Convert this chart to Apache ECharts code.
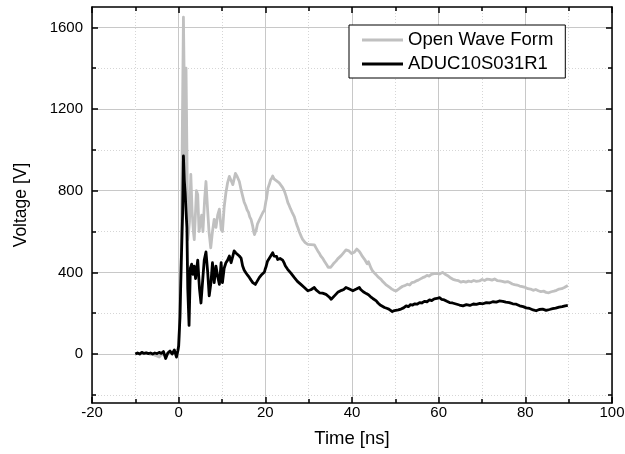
<!DOCTYPE html>
<html>
<head>
<meta charset="utf-8">
<script src="https://cdn.jsdelivr.net/npm/echarts@6/dist/echarts.min.js"></script>
<style>
html,body{margin:0;padding:0;background:#fff;}
#c{width:625px;height:454px;}
</style>
</head>
<body>
<div id="c"></div>
<script>
var seriesNames = ['Open Wave Form', 'ADUC10S031R1'];
var xTicks = [-20, 0, 20, 40, 60, 80, 100];
var yMajorTicks = [0, 400, 800, 1200, 1600];
var yMinorTicks = [-200, 200, 600, 1000, 1400];

var grayTime = [-10,-9.5,-9,-8.5,-8,-7.5,-7,-6.5,-6,-5.5,-5,-4.5,-4,-3.5,-3,-2.5,-2,-1.5,-1,-0.5,0,0.3,0.6,0.85,1.1,1.3,1.45,1.7,1.9,2.1,2.3,2.5,2.8,3.1,3.4,3.6,3.9,4.1,4.4,4.7,5.0,5.3,5.6,6.0,6.3,6.7,7.0,7.4,7.8,8.2,8.6,9.0,9.4,9.8,10.1,10.5,10.9,11.3,11.7,12.1,12.5,13.1,13.5,
14,14.4,14.75,15.1,15.5,15.8,16.1,16.4,16.7,17.1,17.3,17.5,17.7,17.9,18.2,18.5,18.8,19.1,19.4,19.6,19.8,20.1,20.3,20.6,20.9,21.2,21.5,21.7,22.0,22.3,22.6,22.9,23.2,23.6,24.0,24.4,24.8,25.2,25.5,25.8,26.1,26.3,26.7,27.0,27.3,27.5,27.8,28.0,28.3,28.6,28.9,29.2,29.5,29.8,30.1,30.5,30.9,31.3,31.7,32.1,32.5,32.8,33.2,33.6,33.9,34.2,34.5,34.8,35.1,35.4,35.7,35.9,36.3,36.7,37.1,37.5,37.9,38.2,38.6,39.0,39.3,39.6,39.9,40.2,40.5,40.8,41.1,41.3,41.7,42.0,42.4,42.9,43.2,43.5,43.8,44.0,44.4,44.8,45.1,45.5,46.0,46.4,46.7,47.1,47.5,47.8,48.2,48.7,49.2,49.7,50.2,50.6,51.0,51.4,51.7,52.2,52.8,53.3,53.8,54.3,54.8,55.3,55.8,56.3,56.8,57.3,57.8,58.3,58.9,59.5,60.2,60.9,61.4,62.0,62.6,63.3,63.9,64.5,65.1,65.7,66.3,66.9,67.5,68.1,68.7,69.4,70.0,70.6,71.2,71.7,72.3,72.9,73.5,74.1,74.7,75.3,75.9,76.4,77.0,77.5,78.1,78.7,79.3,80.0,80.6,81.2,81.8,82.4,83.0,83.6,84.2,84.8,85.4,86.0,86.6,87.2,87.8,88.4,89.0,89.4,89.8];
var grayVolt = [0,4,2,6,1,5,3,-2,0,-6,-10,-15,-4,0,-10,3,10,4,15,-10,30,200,500,1100,1650,1300,800,1400,1000,560,600,650,880,700,600,560,700,800,780,600,640,680,600,760,845,700,600,520,600,660,620,680,710,610,600,720,790,840,870,850,830,885,870,
845,805,775,745,725,705,695,672,660,625,600,585,598,608,638,645,665,672,692,685,705,745,765,812,830,852,862,872,858,866,848,850,838,840,815,798,772,742,728,712,698,690,672,650,630,620,600,592,575,562,555,546,540,537,545,536,542,535,520,505,492,480,470,456,446,436,425,416,425,432,442,447,455,466,472,482,492,500,510,518,505,500,492,488,498,502,514,512,502,492,478,464,455,442,452,445,420,405,396,390,378,370,366,355,350,340,333,326,318,312,309,315,322,316,332,335,342,338,350,352,358,362,368,374,378,385,382,390,394,395,392,400,392,385,375,366,362,360,352,356,352,357,354,360,356,358,365,360,367,366,362,368,360,358,356,352,355,350,343,340,338,333,330,326,320,318,312,316,310,306,308,302,300,305,308,312,318,320,326,322,336];

var blackTime = [-10,-9.5,-9,-8.5,-8,-7.5,-7,-6.5,-6,-5.5,-5,-4.5,-4,-3.5,-3,-2.5,-2,-1.5,-1,-0.5,-0.2,0,0.3,0.6,0.9,1.1,1.3,1.5,1.7,1.9,2.1,2.4,2.7,3.0,3.3,3.6,3.9,4.4,4.8,5.15,5.5,5.9,6.3,6.7,7.05,7.45,7.8,8.2,8.6,9.0,9.4,9.8,10.1,10.5,10.9,11.3,11.7,12.1,12.5,12.8,13.2,13.6,
14.0,14.4,14.75,15.1,15.5,15.9,16.3,16.7,17.1,17.4,17.7,18.0,18.2,18.6,18.9,19.2,19.5,19.8,20.0,20.2,20.5,20.8,21.1,21.4,21.7,22.0,22.3,22.6,22.85,23.1,23.4,23.7,24.0,24.3,24.6,24.9,25.15,25.5,25.9,26.3,26.7,27.0,27.4,27.8,28.2,28.6,29.0,29.4,29.8,30.1,30.5,30.9,31.3,31.7,32.1,32.5,32.9,33.2,33.6,34.0,34.4,34.8,35.2,35.6,36.0,36.4,36.7,37.1,37.6,38.1,38.6,39.0,39.4,39.8,40.2,40.6,41.0,41.4,41.7,42.0,42.3,42.6,42.9,43.3,43.8,44.3,44.8,45.2,45.6,46.0,46.5,47.0,47.5,48.0,48.5,48.9,49.3,49.8,50.2,50.7,51.3,51.9,52.5,53.0,53.5,54.0,54.5,55.0,55.6,56.1,56.7,57.3,57.9,58.4,59.0,59.6,60.2,60.7,61.3,61.9,62.5,63.2,64.0,64.8,65.6,66.4,67.2,68.0,68.7,69.5,70.2,71.0,71.7,72.5,73.3,74.0,74.8,75.5,76.3,77.1,77.9,78.7,79.5,80.2,81.0,81.8,82.5,83.2,84.0,84.8,85.6,86.3,87.0,87.8,88.5,89.2,89.8];
var blackVolt = [0,5,0,8,3,6,2,5,0,5,2,8,3,12,-22,5,15,0,20,-15,15,40,180,450,680,970,850,790,700,620,320,140,420,440,390,430,370,460,320,250,350,460,500,400,285,350,447,350,431,380,341,447,350,420,447,460,480,447,480,505,495,488,
480,470,432,412,398,386,375,362,350,345,341,352,360,374,380,390,395,402,418,430,455,462,475,482,496,480,472,478,463,472,468,474,460,448,432,425,415,408,396,385,374,368,356,350,341,336,326,318,310,318,315,322,326,314,306,300,294,298,290,292,285,278,268,275,286,294,302,305,312,316,326,320,318,312,310,316,318,322,326,316,312,305,302,296,290,280,272,265,260,250,240,234,228,224,220,212,208,213,210,216,220,226,236,232,242,240,246,244,252,250,258,256,265,262,270,272,276,268,265,258,252,250,245,240,236,242,238,245,243,248,246,252,250,256,254,260,258,254,252,246,244,236,232,226,223,216,212,218,220,214,218,222,225,230,232,236,238];

function pairs(t, v) {
  var out = [];
  for (var i = 0; i < t.length; i++) out.push([t[i], v[i]]);
  return out;
}

var FONT = '"Liberation Sans", Arial, sans-serif';
var YMIN = -240, YMAX = 1700;

var chart = echarts.init(document.getElementById('c'), null, {renderer: 'canvas'});

var majorGrid = {show: true, lineStyle: {color: '#c8c8c8', width: 1, type: 'solid'}};
var minorGrid = {show: true, lineStyle: {color: '#d6d6d6', width: 1, type: [1, 2]}};

function yAx(pos, values, len, split, labels, line) {
  return {
    type: 'value', position: pos, min: YMIN, max: YMAX,
    axisLine: {show: line, onZero: false, lineStyle: {color: '#000', width: 1.5}},
    axisTick: {show: true, inside: true, length: len, customValues: values, lineStyle: {color: '#000', width: 1.5}},
    axisLabel: labels ? {show: true, customValues: values, color: '#000', fontSize: 15, fontFamily: FONT, margin: 9,
      formatter: function (v) { return String(v); }} : {show: false},
    splitLine: split ? split : {show: false},
    name: labels ? 'Voltage [V]' : '',
    nameLocation: 'middle', nameGap: 62, nameRotate: 90,
    nameTextStyle: {color: '#000', fontSize: 17.5, fontFamily: FONT}
  };
}

chart.setOption({
  animation: false,
  backgroundColor: '#fff',
  grid: {left: 92, right: 13, top: 7, bottom: 51, containLabel: false, outerBoundsMode: 'none'},
  legend: {
    data: seriesNames,
    orient: 'vertical',
    left: 349, top: 25,
    padding: [5, 12, 4, 13],
    itemGap: 4,
    itemWidth: 41, itemHeight: 3,
    icon: 'rect',
    backgroundColor: '#fff',
    borderColor: '#000', borderWidth: 1,
    textStyle: {color: '#000', fontSize: 18.5, fontFamily: FONT, lineHeight: 20}
  },
  xAxis: [
    {
      type: 'value', position: 'bottom', min: -20, max: 100, interval: 20,
      axisLine: {show: true, onZero: false, lineStyle: {color: '#000', width: 1.5}},
      axisTick: {show: true, inside: true, length: 6, lineStyle: {color: '#000', width: 1.5}},
      minorTick: {show: true, splitNumber: 2, length: 4, lineStyle: {color: '#000', width: 1.5}},
      axisLabel: {color: '#000', fontSize: 15, fontFamily: FONT, margin: 2,
        formatter: function (v) { return String(v); }},
      splitLine: majorGrid,
      minorSplitLine: minorGrid,
      name: 'Time [ns]', nameLocation: 'middle', nameGap: 26,
      nameTextStyle: {color: '#000', fontSize: 18.5, fontFamily: FONT}
    },
    {
      type: 'value', position: 'top', min: -20, max: 100, interval: 20,
      axisLine: {show: true, onZero: false, lineStyle: {color: '#000', width: 1.5}},
      axisTick: {show: true, inside: true, length: 6, lineStyle: {color: '#000', width: 1.5}},
      minorTick: {show: true, splitNumber: 2, length: 4, lineStyle: {color: '#000', width: 1.5}},
      axisLabel: {show: false},
      splitLine: {show: false}
    }
  ],
  yAxis: [
    yAx('left', yMajorTicks, 6, majorGrid, true, true),
    yAx('left', yMinorTicks, 4, minorGrid, false, false),
    yAx('right', yMajorTicks, 6, null, false, true),
    yAx('right', yMinorTicks, 4, null, false, false)
  ],
  series: [
    {
      name: seriesNames[0], type: 'line', xAxisIndex: 0, yAxisIndex: 0,
      data: pairs(grayTime, grayVolt),
      symbol: 'none', color: '#c0c0c0',
      lineStyle: {color: '#c0c0c0', width: 2.8, join: 'round'},
      z: 3
    },
    {
      name: seriesNames[1], type: 'line', xAxisIndex: 0, yAxisIndex: 0,
      data: pairs(blackTime, blackVolt),
      symbol: 'none', color: '#000',
      lineStyle: {color: '#000', width: 2.8, join: 'round'},
      z: 4
    }
  ]
});
</script>
</body>
</html>
